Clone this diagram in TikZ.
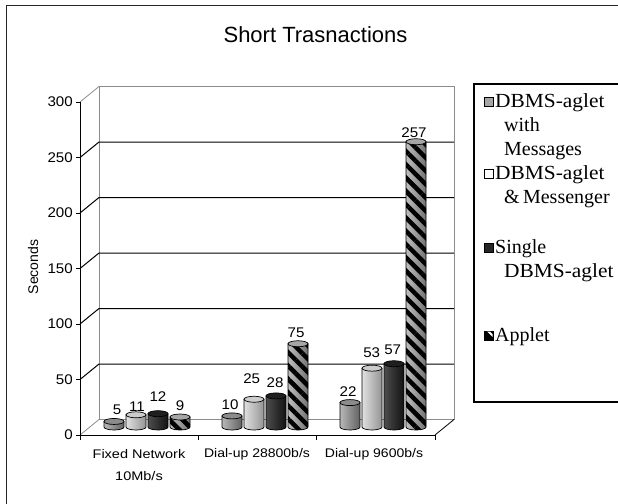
\documentclass[tikz,border=0pt]{standalone}
\usepackage{fontspec}
\setmainfont{Liberation Serif}
\setsansfont{Liberation Sans}
\usepackage{graphicx}
\usetikzlibrary{patterns.meta}
\newcommand{\cylbody}[3]{%
  \pgfmathsetmacro{\yt}{427-1.11*#2}%
  \path[#3] ({#1-10},\yt) -- ({#1-10},427) arc[start angle=180,end angle=0,x radius=10,y radius=3] -- ({#1+10},\yt) -- cycle;%
}
\newcommand{\cyltop}[3]{%
  \pgfmathsetmacro{\yt}{427-1.11*#2}%
  \draw[baredge, fill=#3] (#1,\yt) ellipse[x radius=10,y radius=3];%
}
\begin{document}
\begin{tikzpicture}[x=1pt,y=-1pt,
  axisfont/.style={font=\sffamily\fontsize{14}{16}\selectfont, inner sep=0pt},
  catlabel/.style={font=\sffamily\fontsize{12.5}{15}\selectfont, inner sep=0pt},
  vallabel/.style={font=\sffamily\fontsize{14}{16}\selectfont, inner sep=0pt},
  legtext/.style={font=\rmfamily\fontsize{20}{24}\selectfont, inner sep=0pt, anchor=base west},
  wall/.style={draw=black!45, line width=0.8pt},
  gridline/.style={draw=black, line width=1pt},
  baredge/.style={draw=black, line width=0.7pt},
  sone/.style={left color=black!28, middle color=black!22, right color=black!62},
  stwo/.style={left color=black!12, middle color=white, right color=black!42},
  sthree/.style={left color=black!70, middle color=black!76, right color=black!93},
  sfour/.style={left color=black!25, middle color=white, right color=black!55},
  hatch/.style={pattern={Lines[angle=-45,distance=9.4pt,line width=4.5pt]}, pattern color=black},
  legicon/.style={draw=black, line width=0.8pt},
]
\useasboundingbox (0,0) rectangle (618,503);
% outer frame
\draw[line width=1.6pt, black!85] (6.5,510) -- (6.5,5.5) -- (625,5.5);
% title
\node[font=\sffamily\fontsize{22}{26}\selectfont, inner sep=0pt] (title) at (315.5,35) {Short Trasnactions};
% walls and floor
\draw[wall] (99,419.5) -- (99,86.5) -- (454,86.5) -- (454,419.5);
\draw[wall] (80,435) -- (99,419.5) -- (454,419.5);
\draw[black, line width=0.8pt] (435,435) -- (454,419.5);
\foreach \v in {50,100,...,250} {
  \draw[gridline] (80,{435-1.11*\v}) -- (99,{419.5-1.11*\v}) -- (454,{419.5-1.11*\v});
}
\draw[wall] (80,102) -- (99,86.5);
% bars
\foreach \cx/\v in {114/5,232/10,350/22} {
  \cylbody{\cx}{\v}{sone}\cylbody{\cx}{\v}{baredge}\cyltop{\cx}{\v}{black!45}
}
\foreach \cx/\v in {136/11,254/25,372/53} {
  \cylbody{\cx}{\v}{stwo}\cylbody{\cx}{\v}{baredge}\cyltop{\cx}{\v}{black!20}
}
\foreach \cx/\v in {158/12,276/28,394/57} {
  \cylbody{\cx}{\v}{sthree}\cylbody{\cx}{\v}{baredge}\cyltop{\cx}{\v}{black!88}
}
\foreach \cx/\v in {180/9,298/75,416/257} {
  \cylbody{\cx}{\v}{sfour}\cylbody{\cx}{\v}{hatch}\cylbody{\cx}{\v}{baredge}\cyltop{\cx}{\v}{black!35}
}
% axes
\draw[black, line width=1pt] (80,102) -- (80,440);
\draw[black, line width=1pt] (76,435) -- (435,435);
\foreach \x in {198,316,435} { \draw[black, line width=1pt] (\x,435) -- (\x,440); }
\foreach \v in {50,100,...,300} { \draw[black, line width=1pt] (76,{435-1.11*\v}) -- (80,{435-1.11*\v}); }
% y labels
\foreach \v/\nm in {0/ya,50/yb,100/yc,150/yd,200/ye,250/yf,300/yg} {
  \node[axisfont, anchor=east] (\nm) at (73,{435-1.11*\v}) {\scalebox{1.08}[1]{\v}};
}
\node[axisfont, rotate=90] (ytitle) at (33,267) {Seconds};
% category labels
\node[catlabel] (c1a) at (139,454) {\scalebox{1.16}[1]{Fixed Network}};
\node[catlabel] (c1b) at (139,476) {\scalebox{1.16}[1]{10Mb/s}};
\node[catlabel] (c2) at (257,454) {\scalebox{1.12}[1]{Dial-up 28800b/s}};
\node[catlabel] (c3) at (374,454) {\scalebox{1.12}[1]{Dial-up 9600b/s}};
% value labels
\foreach \x/\y/\t/\nm in {117/410/5/va,137/407/11/vb,158/397/12/vc,180/406/9/vd,230/405/10/ve,251.7/379/25/vf,275/383/28/vg,296/333/75/vh,348/392/22/vi,371.7/353/53/vj,392.7/350/57/vk,414/133/257/vl} {
  \node[vallabel] (\nm) at (\x,\y) {\scalebox{1.08}[1]{\t}};
}
% legend
\draw[line width=1.2pt] (625,84) -- (474,84) -- (474,402) -- (625,402);
\draw[legicon, fill=black!35] (484,97) rectangle (493,106);
\draw[legicon, fill=white] (484,169) rectangle (493,178);
\draw[legicon, fill=black!85] (484,243) rectangle (493,252);
\draw[legicon, fill=black] (484,331) rectangle (493,340);
\fill[white] (487.2,331.5) -- (489.8,331.5) -- (492.5,334.2) -- (492.5,336.8) -- cycle;
\node[legtext] (l1a) at (495,107.5) {\scalebox{1.07}[1]{DBMS-aglet}};
\node[legtext] (l1b) at (504,131.5) {with};
\node[legtext] (l1c) at (504,155.5) {Messages};
\node[legtext] (l2a) at (495,179.5) {\scalebox{1.07}[1]{DBMS-aglet}};
\node[legtext] (l2b) at (504,203.5) {\&\,Messenger};
\node[legtext] (l3a) at (495,253.5) {Single};
\node[legtext] (l3b) at (504,277.5) {\scalebox{1.07}[1]{DBMS-aglet}};
\node[legtext] (l4a) at (495,341.5) {Applet};
\end{tikzpicture}
\end{document}
